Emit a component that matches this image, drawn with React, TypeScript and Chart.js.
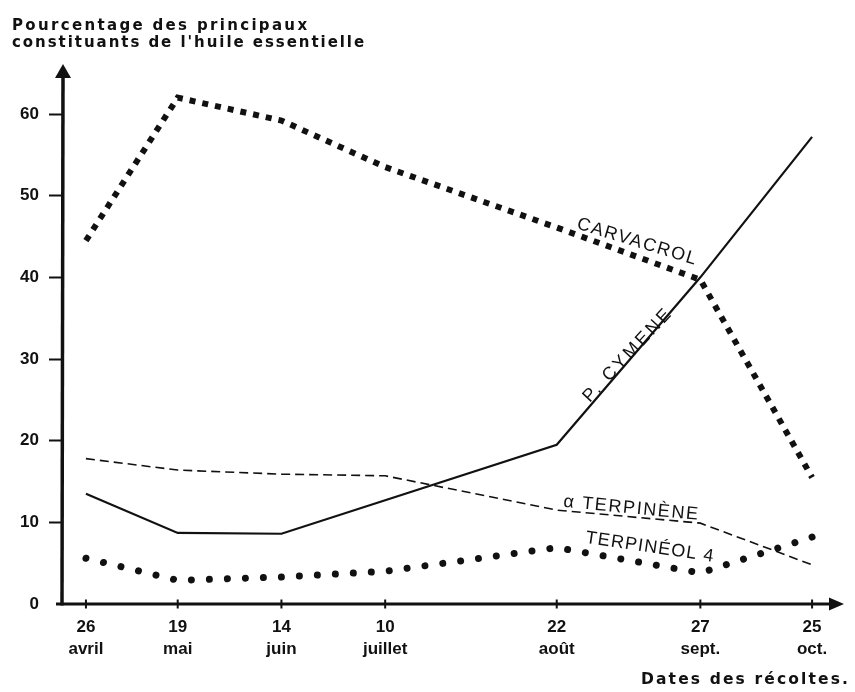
import React, { useEffect, useRef } from "react";
import { Chart, registerables } from "chart.js";

Chart.register(...registerables);

// ---- data ----
const harvestDays = [116, 139, 165, 191, 234, 270, 298]; // day of year of each harvest
const harvestDayLabels = ["26", "19", "14", "10", "22", "27", "25"];
const harvestMonthLabels = ["avril", "mai", "juin", "juillet", "août", "sept.", "oct."];
const carvacrol = [44.5, 62, 59.2, 53.5, 46.1, 39.7, 15.5];
const pCymene = [13.5, 8.7, 8.6, 12.7, 19.5, 40, 57.2];
const alphaTerpinene = [17.8, 16.4, 15.9, 15.7, 11.5, 9.9, 4.8];
const terpineol4 = [5.6, 2.9, 3.3, 4.0, 6.9, 3.8, 8.2];
const yTickValues = [0, 10, 20, 30, 40, 50, 60];
const seriesNames = ["CARVACROL", "P. CYMENE", "α TERPINÈNE", "TERPINÉOL 4"];
const titleLines = ["Pourcentage des principaux", "constituants de l'huile essentielle"];
const xAxisTitle = "Dates des récoltes.";

const FONT = '"Liberation Sans", Arial, Helvetica, sans-serif';
const WIDE_FONT = '"DejaVu Sans", Verdana, sans-serif';
const INK = "#111111";

function spacedText(ctx: CanvasRenderingContext2D, text: string, x: number, y: number, width: number, font: string) {
  ctx.font = font;
  (ctx as any).letterSpacing = "0px";
  const w = ctx.measureText(text).width;
  const n = Array.from(text).length;
  const sp = n > 1 ? (width - w) / (n - 1) : 0;
  (ctx as any).letterSpacing = sp.toFixed(2) + "px";
  ctx.fillText(text, x, y);
  (ctx as any).letterSpacing = "0px";
}

const axesPlugin = {
  id: "handAxes",
  beforeDatasetsDraw(chart: any) {
    const { ctx, chartArea } = chart;
    const xs = chart.scales.x;
    const x0 = chartArea.left;
    const y0 = chartArea.bottom;
    ctx.save();
    ctx.strokeStyle = INK;
    ctx.fillStyle = INK;
    ctx.lineCap = "butt";
    // y axis
    ctx.lineWidth = 3.5;
    ctx.beginPath();
    ctx.moveTo(x0, y0 + 1.5);
    ctx.lineTo(x0 + 1, chartArea.top + 10);
    ctx.stroke();
    ctx.beginPath();
    ctx.moveTo(x0 + 1, chartArea.top - 1);
    ctx.lineTo(x0 - 7, chartArea.top + 13);
    ctx.lineTo(x0 + 9, chartArea.top + 13);
    ctx.closePath();
    ctx.fill();
    // x axis
    ctx.lineWidth = 3;
    ctx.beginPath();
    ctx.moveTo(x0 - 6, y0);
    ctx.lineTo(chartArea.right - 10, y0);
    ctx.stroke();
    ctx.beginPath();
    ctx.moveTo(chartArea.right + 2, y0);
    ctx.lineTo(chartArea.right - 13, y0 - 6.5);
    ctx.lineTo(chartArea.right - 13, y0 + 6.5);
    ctx.closePath();
    ctx.fill();
    // x tick crosses
    ctx.lineWidth = 2;
    harvestDays.forEach((d) => {
      const px = xs.getPixelForValue(d);
      ctx.beginPath();
      ctx.moveTo(px, y0 - 4.5);
      ctx.lineTo(px, y0 + 4.5);
      ctx.stroke();
    });
    ctx.restore();
  },
};

const textPlugin = {
  id: "textLayer",
  afterDraw(chart: any, _args: any, opts: any) {
    const { ctx } = chart;
    const xs = chart.scales.x;
    const ys = chart.scales.y;
    ctx.save();
    ctx.fillStyle = INK;
    ctx.textAlign = "left";
    ctx.textBaseline = "alphabetic";
    // title (top-left)
    spacedText(ctx, titleLines[0], 12, 30, 295, `bold 15px ${WIDE_FONT}`);
    spacedText(ctx, titleLines[1], 12, 47, 352, `bold 15px ${WIDE_FONT}`);
    // x axis title (bottom-right)
    spacedText(ctx, xAxisTitle, 641, 684, 207, `bold 15.5px ${WIDE_FONT}`);
    // series labels placed along the curves
    (opts.labels || []).forEach((l: any, i: number) => {
      const px = xs.getPixelForValue(l.day);
      const py = ys.getPixelForValue(l.pct);
      ctx.save();
      ctx.translate(px, py);
      ctx.rotate((l.angle * Math.PI) / 180);
      spacedText(ctx, seriesNames[i], 0, 0, l.width, `18px ${FONT}`);
      ctx.restore();
    });
    ctx.restore();
  },
};

function pts(values: number[]) {
  return harvestDays.map((d, i) => ({ x: d, y: values[i] }));
}

export default function App() {
  const canvasRef = useRef<HTMLCanvasElement | null>(null);

  useEffect(() => {
    const canvas = canvasRef.current;
    if (!canvas) return;
    const chart = new Chart(canvas, {
      type: "line",
      data: {
        datasets: [
          {
            label: seriesNames[0],
            data: pts(carvacrol),
            borderColor: INK,
            borderWidth: 6,
            borderDash: [6, 7],
            borderCapStyle: "butt",
            pointRadius: 0,
            tension: 0,
            clip: false,
          } as any,
          {
            label: seriesNames[1],
            data: pts(pCymene),
            borderColor: INK,
            borderWidth: 2.2,
            pointRadius: 0,
            tension: 0,
            clip: false,
          },
          {
            label: seriesNames[2],
            data: pts(alphaTerpinene),
            borderColor: INK,
            borderWidth: 1.6,
            borderDash: [9, 5],
            pointRadius: 0,
            tension: 0,
            clip: false,
          },
          {
            label: seriesNames[3],
            data: pts(terpineol4),
            borderColor: INK,
            borderWidth: 7,
            borderDash: [0.01, 18],
            borderCapStyle: "round",
            pointRadius: 0,
            tension: 0,
            clip: false,
          } as any,
        ],
      },
      options: {
        responsive: false,
        animation: false,
        events: [],
        layout: { padding: { top: 65, right: 13, left: 0, bottom: 0 } },
        plugins: {
          legend: { display: false },
          tooltip: { enabled: false },
          textLayer: {
            labels: [
              { day: 238.8, pct: 46.0, angle: 17, width: 124 },
              { day: 242.3, pct: 24.6, angle: -47, width: 120 },
              { day: 235.6, pct: 11.9, angle: 5.5, width: 135 },
              { day: 241.1, pct: 7.5, angle: 8.4, width: 129 },
            ],
          },
        } as any,
        scales: {
          x: {
            type: "linear",
            min: 110,
            max: 305.5,
            afterBuildTicks: (scale: any) => {
              scale.ticks = harvestDays.map((v) => ({ value: v }));
            },
            afterFit: (scale: any) => {
              scale.height = 88;
            },
            grid: { display: false, drawTicks: false },
            border: { display: false },
            ticks: {
              autoSkip: false,
              maxRotation: 0,
              minRotation: 0,
              padding: 13,
              color: INK,
              font: { family: FONT, size: 17, weight: "bold", lineHeight: 1.25 },
              callback: (v: any) => {
                const i = harvestDays.indexOf(Number(v));
                return i < 0 ? "" : [harvestDayLabels[i], harvestMonthLabels[i]];
              },
            },
          },
          y: {
            type: "linear",
            min: 0,
            max: 66,
            afterBuildTicks: (scale: any) => {
              scale.ticks = yTickValues.map((v) => ({ value: v }));
            },
            afterFit: (scale: any) => {
              scale.width = 62;
            },
            grid: {
              drawOnChartArea: false,
              drawTicks: true,
              tickLength: 13,
              tickWidth: 2,
              tickColor: (c: any) => (c.tick && c.tick.value === 0 ? "rgba(0,0,0,0)" : INK),
            },
            border: { display: false },
            ticks: {
              padding: 10,
              color: INK,
              font: { family: FONT, size: 17, weight: "bold" },
            },
          },
        } as any,
      },
      plugins: [axesPlugin, textPlugin],
    });
    return () => chart.destroy();
  }, []);

  return (
    <div style={{ position: "fixed", left: 0, top: 0, width: 855, height: 692, background: "#ffffff" }}>
      <canvas ref={canvasRef} width={855} height={692} style={{ width: 855, height: 692, display: "block" }} />
    </div>
  );
}
